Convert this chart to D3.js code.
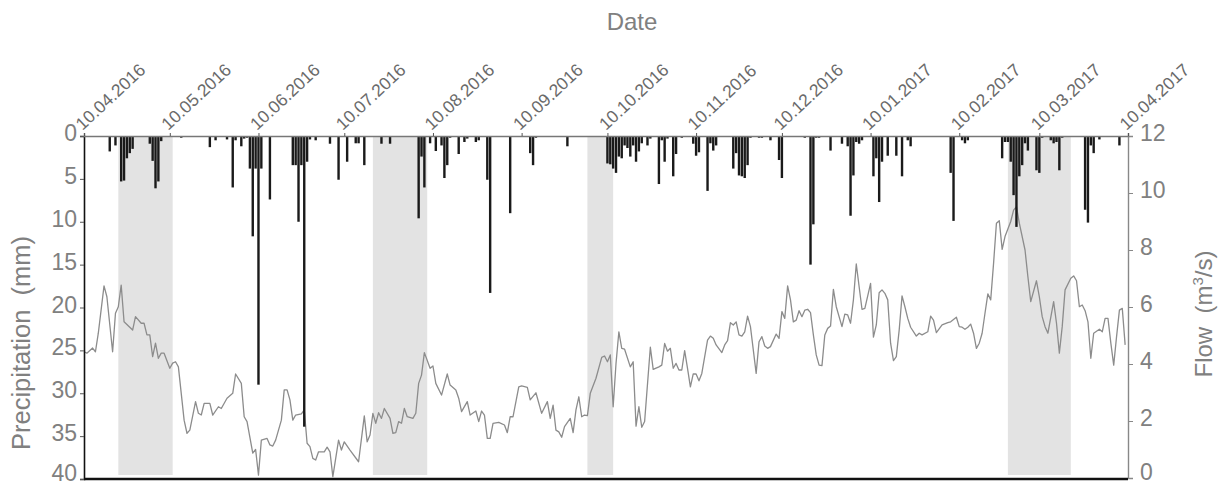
<!DOCTYPE html>
<html>
<head>
<meta charset="utf-8">
<script src="https://cdn.jsdelivr.net/npm/d3@7"></script>
<style>
  html, body { margin: 0; padding: 0; background: #fff; }
  svg { display: block; font-family: "Liberation Sans", Arial, sans-serif; }
</style>
</head>
<body>
<svg id="chart" width="1223" height="487"></svg>
<script>
// Daily series start; offsets below are days after this date.
const startDate = new Date(2016, 3, 10);
const endDate = new Date(2017, 3, 10);

// Month ticks on the top axis (10th of each month).
const tickDates = ["2016-04-10","2016-05-10","2016-06-10","2016-07-10","2016-08-10","2016-09-10",
  "2016-10-10","2016-11-10","2016-12-10","2017-01-10","2017-02-10","2017-03-10","2017-04-10"];

// Highlighted periods [start, end].
const periodStart = ["2016-04-22","2016-07-20","2016-10-03","2017-02-27"];
const periodEnd   = ["2016-05-11","2016-08-08","2016-10-12","2017-03-21"];

// Daily precipitation (mm): day offset and amount.
const precipDay = [9,11,13,14,15,16,17,23,24,25,26,27,34,44,46,50,52,53,55,56,57,58,59,60,61,62,65,
  73,74,75,76,77,78,79,81,86,89,92,95,96,98,104,107,117,118,119,121,123,125,126,127,128,131,133,134,
  137,138,141,142,149,156,157,158,169,180,183,184,185,186,187,188,189,190,191,192,193,194,195,197,198,
  201,202,203,204,206,207,209,213,214,215,218,219,220,221,227,228,229,230,231,232,233,236,237,240,243,
  244,252,254,255,256,257,261,265,267,268,269,270,271,272,274,276,277,278,279,281,284,286,288,289,303,
  304,307,308,309,321,322,323,324,325,326,327,328,329,330,333,334,335,338,339,340,341,342,350,351,352,
  353,355,362];
const precipMm = [1.8,1.1,5.3,5.2,2.6,2.0,1.5,0.9,2.9,6.1,5.3,0.6,0.2,1.3,0.5,0.4,6.0,0.5,1.2,0.3,0.2,3.8,11.7,3.8,29.0,3.8,7.4,
  3.4,3.4,10.0,3.4,33.9,3.0,0.4,0.5,0.9,5.1,3.0,0.85,0.85,3.4,0.9,0.9,9.6,2.4,6.0,0.85,1.75,1.1,4.9,3.4,0.2,2.1,0.7,0.3,
  0.7,0.5,5.1,18.3,9.0,2.0,3.4,0.2,1.2,0.1,3.2,3.3,3.8,4.3,2.4,2.6,1.1,1.4,2.4,1.1,3.0,1.8,0.85,1.1,0.3,
  5.6,0.5,3.0,0.3,4.7,2.1,0.2,0.9,2.3,1.9,6.4,0.85,1.7,1.1,3.8,2.0,4.6,4.7,4.9,3.4,0.2,0.2,0.2,0.5,2.8,
  4.9,0.2,15.0,10.3,0.2,0.2,1.7,0.9,1.2,9.3,4.6,0.7,0.9,0.5,0.1,4.7,2.6,7.7,3.0,2.3,2.3,4.7,0.5,1.2,4.3,
  9.9,0.5,0.85,0.5,2.6,0.7,0.7,3.0,6.9,10.6,4.7,3.4,0.85,1.7,4.0,4.3,0.2,0.5,0.85,0.7,4.0,0.2,8.6,10.1,1.1,
  2.0,0.4,1.1];

// Daily flow (m³/s): day offset and discharge.
const flowDay = [0,1,3,4,5,7,8,10,11,12,13,14,17,18,20,21,22,23,24,25,26,27,28,30,31,32,33,35,36,37,39,40,41,42,44,45,
  47,48,50,52,53,55,56,57,59,60,61,62,64,65,66,67,69,70,71,72,73,74,76,77,78,79,80,81,82,84,85,86,87,89,90,91,93,
  96,98,99,100,101,102,103,104,105,107,108,109,110,111,112,113,115,116,117,118,119,121,122,123,125,127,128,130,131,
  132,134,135,137,138,139,140,141,142,143,145,147,148,149,150,152,153,155,156,158,160,162,163,164,165,166,167,168,
  170,171,172,173,174,175,176,177,179,181,182,183,184,185,186,187,188,189,191,192,193,194,195,196,198,199,201,202,
  203,204,205,206,207,208,209,210,211,212,213,214,215,216,218,219,220,221,223,224,225,226,227,228,229,230,231,232,
  233,235,236,237,238,239,240,242,243,244,245,246,247,248,249,250,251,252,253,254,255,256,257,258,259,260,261,262,
  263,265,266,267,268,269,270,271,272,273,275,276,277,278,279,280,281,282,283,284,285,286,287,288,289,291,292,293,
  295,296,297,298,300,302,303,305,306,307,308,309,310,311,312,313,314,315,316,317,318,319,320,321,322,324,325,326,
  327,329,330,331,333,334,335,336,337,339,340,341,342,343,345,346,347,348,349,350,351,352,353,355,356,357,358,359,
  360,361,362,363,364];
const flowM3s = [4.43,4.38,4.56,4.43,5.08,6.74,6.36,4.43,5.78,6.01,6.77,5.48,5.19,5.66,5.43,5.43,5.02,5.02,4.26,4.73,4.2,4.38,4.38,3.85,4.03,4.08,3.9,2.03,1.57,1.68,2.68,2.27,2.21,2.62,2.62,2.21,
  2.5,2.44,2.8,2.97,3.65,3.32,2.15,1.98,0.87,1.0,0.1,1.33,1.39,1.16,1.12,1.33,2.03,3.09,3.09,2.74,2.03,2.21,2.25,2.39,1.22,1.1,0.69,0.63,0.92,0.92,1.08,0.92,0.05,1.33,0.98,1.27,0.98,
  0.57,2.18,1.27,1.51,2.27,1.92,2.29,2.09,2.44,2.09,1.57,1.59,1.98,1.92,2.44,2.15,2.09,2.27,3.32,3.61,4.4,3.85,3.93,3.32,2.91,3.65,3.26,3.09,2.8,
  2.33,2.68,2.21,2.35,1.98,2.35,2.21,1.39,1.39,1.92,1.95,1.86,1.59,2.15,2.15,3.2,3.23,3.18,2.74,2.99,2.27,2.68,2.09,2.56,1.68,1.62,1.43,1.8,
  2.09,1.59,2.39,2.85,2.15,2.21,2.19,2.97,3.5,4.23,4.28,4.08,4.32,2.5,4.02,5.13,4.55,4.52,3.9,4.08,1.82,2.5,1.78,1.98,4.59,3.81,3.9,3.96,
  4.72,4.45,4.55,3.85,4.02,3.79,3.79,4.47,3.85,3.2,3.65,3.65,3.41,3.67,4.84,4.98,4.9,4.67,4.4,4.67,4.82,5.45,5.37,5.48,5.02,4.98,5.13,5.68,
  5.31,3.67,4.78,4.96,4.63,4.55,4.61,5.05,4.9,5.84,5.6,6.74,6.25,5.48,5.54,5.87,5.66,5.89,5.92,5.8,5.02,4.32,3.96,3.94,5.02,5.25,5.33,6.62,
  6.01,5.31,5.75,5.72,5.43,6.25,7.51,6.71,5.92,5.95,6.83,4.94,5.37,6.5,6.6,6.48,6.25,4.73,4.12,4.26,5.19,6.39,6.01,5.6,5.29,4.98,5.08,5.02,
  5.13,5.68,5.54,5.1,5.37,5.45,5.48,5.64,5.31,5.29,5.22,5.29,5.4,5.08,4.55,4.73,5.08,5.78,6.46,6.25,7.53,8.94,9.03,8.02,8.47,9.0,9.4,9.52,
  8.94,8.0,7.06,6.19,6.92,6.36,5.66,5.31,5.08,6.19,5.43,4.38,5.31,6.6,7.01,7.09,6.92,6.01,6.07,5.87,5.48,4.2,5.08,5.22,5.13,5.6,5.6,4.73,
  3.96,4.96,5.89,5.95,4.67];

const precipTicks = [0,5,10,15,20,25,30,35,40];
const flowTicks = [0,2,4,6,8,10,12];

const parseDate = d3.timeParse("%Y-%m-%d");
const fmtDate = d3.timeFormat("%d.%m.%Y");
const dayToDate = d => d3.timeDay.offset(startDate, d);

const plot = { left: 84, right: 1128, top: 136, bottom: 479 };
const textGrey = "#808080";
const fontFamily = "Liberation Sans, Arial, sans-serif";

const svg = d3.select("#chart");

const x = d3.scaleTime().domain([startDate, endDate]).range([plot.left, plot.right]);
const yP = d3.scaleLinear().domain([0, 40]).range([plot.top, plot.bottom]);
const yQ = d3.scaleLinear().domain([0, 12]).range([plot.bottom - 1, plot.top]);

// Shaded periods
svg.append("g").selectAll("rect")
  .data(periodStart.map((s, i) => ({ s: parseDate(s), e: parseDate(periodEnd[i]) })))
  .join("rect")
  .attr("x", d => x(d.s))
  .attr("width", d => x(d.e) - x(d.s))
  .attr("y", plot.top)
  .attr("height", plot.bottom - 4 - plot.top)
  .attr("fill", "#e3e3e3");

// Flow line
const flow = flowDay.map((d, i) => ({ date: dayToDate(d), v: flowM3s[i] }));
svg.append("path")
  .datum(flow)
  .attr("fill", "none")
  .attr("stroke", "#8c8c8c")
  .attr("stroke-width", 1.3)
  .attr("stroke-linejoin", "round")
  .attr("d", d3.line().x(d => x(d.date)).y(d => yQ(d.v)));

// Precipitation bars hanging from the top
const barW = 2.4;
const precip = precipDay.map((d, i) => ({ date: dayToDate(d), v: precipMm[i] }));
svg.append("g").selectAll("rect")
  .data(precip)
  .join("rect")
  .attr("x", d => x(d.date) - barW / 2)
  .attr("width", barW)
  .attr("y", yP(0))
  .attr("height", d => yP(d.v) - yP(0))
  .attr("fill", "#1a1a1a");

// Left axis (precipitation)
const axL = svg.append("g")
  .attr("transform", `translate(${plot.left},0)`)
  .call(d3.axisLeft(yP).tickValues(precipTicks).tickSize(4).tickPadding(3).tickFormat(d3.format("d")));
axL.select(".domain").attr("stroke", "#111").attr("stroke-width", 1.6);
axL.selectAll(".tick line").attr("stroke", "#555");
axL.selectAll(".tick text").attr("fill", textGrey).attr("font-size", 23)
  .attr("font-family", fontFamily).attr("dy", "0.2em");
axL.selectAll(".tick text").filter(d => d === 40).attr("dy", "0.08em");

// Right axis (flow)
const axR = svg.append("g")
  .attr("transform", `translate(${plot.right},0)`)
  .call(d3.axisRight(yQ).tickValues(flowTicks).tickSize(5).tickPadding(7).tickFormat(d3.format("d")));
axR.select(".domain").attr("stroke", "#888").attr("stroke-width", 1.4);
axR.selectAll(".tick line").attr("stroke", "#888");
axR.selectAll(".tick text").attr("fill", textGrey).attr("font-size", 23)
  .attr("font-family", fontFamily).attr("dy", "0.2em");
axR.selectAll(".tick text").filter(d => d === 0).attr("dy", "0.05em");

// Top date axis
const axT = svg.append("g")
  .attr("transform", `translate(0,${plot.top})`)
  .call(d3.axisTop(x).tickValues(tickDates.map(parseDate)).tickSize(3).tickFormat(fmtDate));
axT.select(".domain").attr("stroke", "#777").attr("stroke-width", 1.5);
axT.selectAll(".tick line").attr("stroke", "#555");
axT.selectAll(".tick text")
  .attr("fill", "#6a6a6a")
  .attr("font-size", 17.5)
  .attr("font-family", fontFamily)
  .attr("text-anchor", "start")
  .attr("x", 0).attr("y", 0).attr("dy", 0)
  .attr("transform", "translate(-2,-5) rotate(-43)");

// Bottom baseline
svg.append("line")
  .attr("x1", plot.left).attr("x2", plot.right)
  .attr("y1", plot.bottom).attr("y2", plot.bottom)
  .attr("stroke", "#111").attr("stroke-width", 2.5);

// Titles
svg.append("text")
  .attr("x", 632).attr("y", 30)
  .attr("text-anchor", "middle")
  .attr("font-size", 24).attr("fill", textGrey)
  .text("Date");

svg.append("text")
  .attr("transform", "translate(30,343) rotate(-90)")
  .attr("text-anchor", "middle")
  .attr("font-size", 25.5).attr("fill", textGrey)
  .attr("xml:space", "preserve")
  .text("Precipitation  (mm)");

const flowTitle = svg.append("text")
  .attr("transform", "translate(1212,314) rotate(-90)")
  .attr("text-anchor", "middle")
  .attr("font-size", 24).attr("fill", textGrey)
  .attr("xml:space", "preserve");
flowTitle.append("tspan").text("Flow  (m");
flowTitle.append("tspan").attr("font-size", 15).attr("dy", -9).text("3");
flowTitle.append("tspan").attr("dy", 9).text("/s)");
</script>
</body>
</html>
